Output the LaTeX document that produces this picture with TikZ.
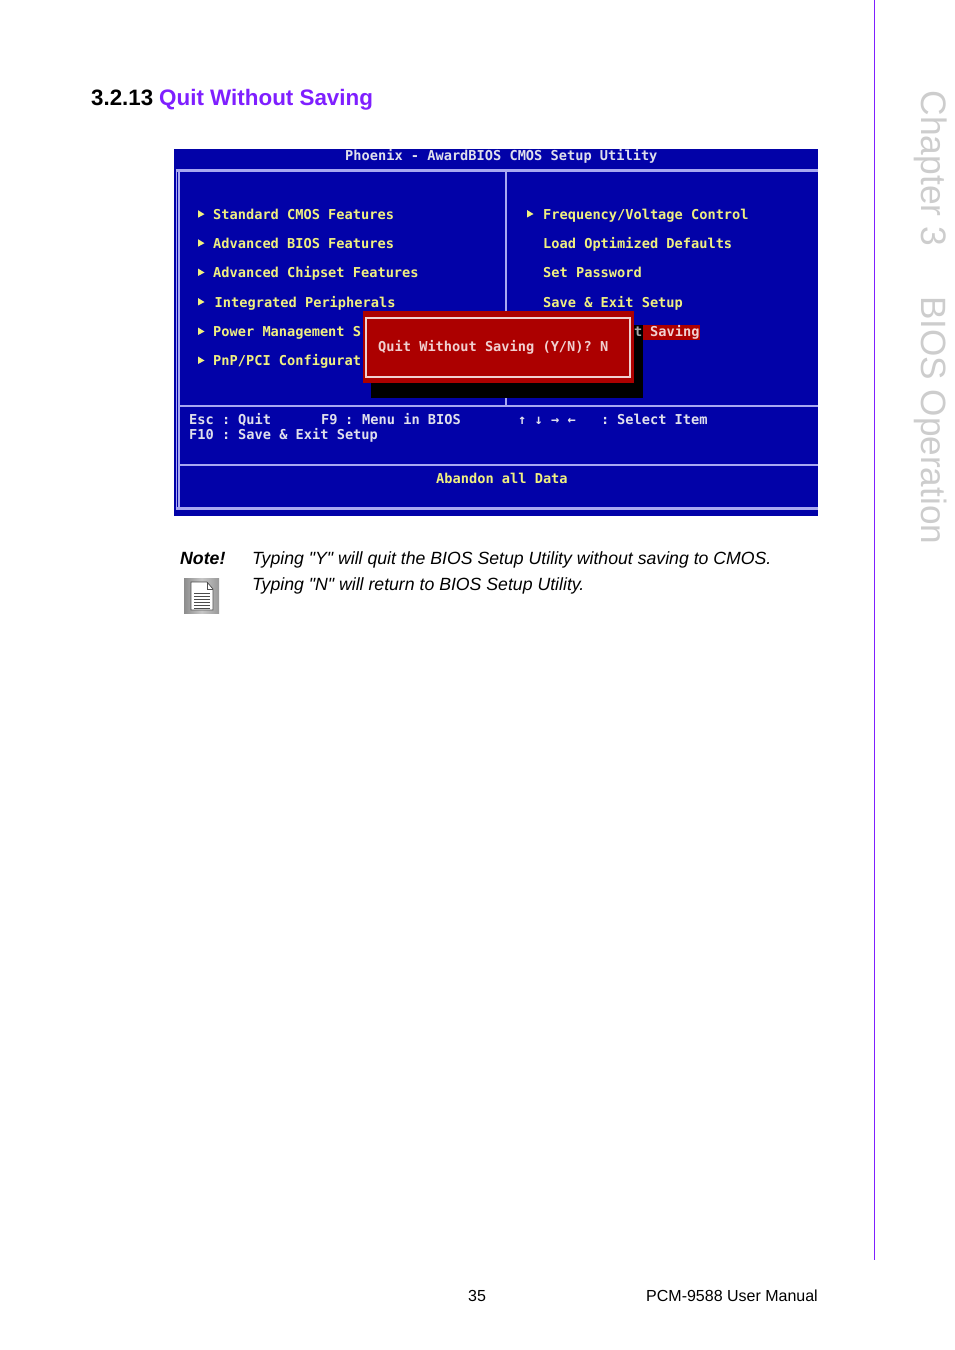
\documentclass[tikz,border=0pt]{standalone}
\usepackage{fontspec}
\setmainfont{Liberation Sans}
\newfontfamily\biosfont{DejaVu Sans Mono}
\newfontfamily\notefont{Liberation Sans}
\definecolor{biosblue}{HTML}{0202A8}
\definecolor{framec}{HTML}{A8A8F0}
\definecolor{biosred}{HTML}{AC0000}
\definecolor{biosyellow}{HTML}{F0F080}
\definecolor{bioswhite}{HTML}{E0E0EC}
\definecolor{diatext}{HTML}{F0D0D0}
\definecolor{purplec}{HTML}{7F1FFF}
\definecolor{greyc}{HTML}{CDCDCD}
\tikzset{
  x=1pt,y=-1pt,
  bt/.style={anchor=base west,inner sep=0pt,font=\fontsize{13.65}{14}\biosfont\bfseries},
  menu/.style={bt,text=biosyellow},
  help/.style={bt,text=bioswhite},
  frameln/.style={draw=framec,line width=1.5pt},
  framebd/.style={draw=framec,line width=3pt},
  tri/.style={fill=biosyellow},
  pg/.style={anchor=base west,inner sep=0pt,font=\fontsize{17.68}{20}\notefont\itshape},
  foot/.style={anchor=base west,inner sep=0pt,font=\fontsize{16}{18}\selectfont},
  chap/.style={anchor=base west,inner sep=0pt,rotate=-90,text=greyc,font=\fontsize{35.4}{36}\selectfont},
}
\begin{document}
\begin{tikzpicture}
\useasboundingbox (0,0) rectangle (954,1350);
\fill[white] (0,0) rectangle (954,1350);
% side rule
\draw[purplec,line width=1.1pt] (874.5,0) -- (874.5,1260);
\node[chap] (ch) at (921,90.5) {Chapter 3};
\node[chap,font=\fontsize{35.15}{36}\selectfont] (bo) at (921,295.8) {BIOS Operation};
% heading
\node[anchor=base west,inner sep=0pt,font=\fontsize{22.3}{24}\selectfont\bfseries] (num) at (91,105) {3.2.13};
\node[anchor=base west,inner sep=0pt,text=purplec,font=\fontsize{22.4}{24}\selectfont\bfseries] (ttl) at (159,105) {Quit Without Saving};
% BIOS screen
\fill[biosblue] (174,149) rectangle (818,516);
\draw[frameln] (176.3,170) -- (176.3,510);
\draw[frameln] (179,171) -- (179,507);
\draw[framebd] (175.5,170.5) -- (818,170.5);
\draw[framebd] (175.5,508.5) -- (818,508.5);
\draw[frameln] (506,171) -- (506,406);
\draw[frameln] (178,406) -- (818,406);
\draw[frameln] (178,465) -- (818,465);
\node[help] (t0) at (345,160.5) {Phoenix - AwardBIOS CMOS Setup Utility};
\foreach \y/\tx in {219.2/{Standard CMOS Features},248.2/{Advanced BIOS Features},277.5/{Advanced Chipset Features},336.5/{Power Management S},365.5/{PnP/PCI Configurat}}{
  \node[menu] at (213,\y) {\tx};
  \fill[tri] (198,\y-9) -- (204.5,\y-5) -- (198,\y-1.5) -- cycle;
}
\node[menu] (ip) at (214.5,307.2) {Integrated Peripherals};
\fill[tri] (198,298) -- (204.5,302) -- (198,305.5) -- cycle;
\fill[tri] (527,210) -- (533.5,214) -- (527,217.5) -- cycle;
\node[menu] (r1) at (543,219.2) {Frequency/Voltage Control};
\node[menu] (r2) at (543,248.2) {Load Optimized Defaults};
\node[menu] (r3) at (543,277.5) {Set Password};
\node[menu] (r4) at (543,307.2) {Save \& Exit Setup};
% dialog
\fill[black] (371,325) rectangle (643,398);
\fill[biosred] (643,325) rectangle (700,340);
\node[bt,text=diatext] (sv) at (650,336.4) {Saving};
\node[help,text=black!35] (tt) at (634,336.4) {t};
\fill[biosred] (363,311) rectangle (634,383);
\draw[diatext,line width=1.5pt] (366,318) rectangle (630,377);
\node[bt,text=diatext] (q) at (378,351.5) {Quit Without Saving (Y/N)? N};
% help
\node[help] (h1) at (189,424.4) {Esc};
\node[help] (h1c) at (222,424.4) {:};
\node[help] (h1t) at (238,424.4) {Quit};
\node[help] (h2) at (321,424.4) {F9};
\node[help] (h2c) at (345,424.4) {:};
\node[help] (h2t) at (362,424.4) {Menu in BIOS};
\node[help] (h3) at (189,439.5) {F10};
\node[help] (h3c) at (222,439.5) {:};
\node[help] (h3t) at (238,439.5) {Save \& Exit Setup};
\node[help] (h4) at (518,424.4) {↑ ↓ → ←};
\node[help] (h5c) at (601,424.4) {:};
\node[help] (h5) at (617,424.4) {Select Item};
\node[menu] (h6) at (436,483.4) {Abandon all Data};
% note
\node[anchor=base west,inner sep=0pt,font=\fontsize{17.7}{20}\notefont\bfseries\itshape] (nt) at (180,564) {Note!};
\node[pg] (l1) at (252,564) {Typing "Y" will quit the BIOS Setup Utility without saving to CMOS.};
\node[pg] (l2) at (252,590) {Typing "N" will return to BIOS Setup Utility.};
% icon
\shade[left color=black!45,right color=black!40,middle color=black!22] (184,578) rectangle (219,613);
\fill[white] (191,582) -- (207,582) -- (213,589) -- (213,610) -- (191,610) -- cycle;
\draw[black!70,line width=0.7pt] (191,582) -- (207,582) -- (213,589) -- (213,610) -- (191,610) -- cycle;
\draw[black!70,line width=0.7pt] (207,582) -- (207,589) -- (213,589);
\foreach \y in {593,596,599,602,605,608}{\draw[black!70,line width=1pt] (194,\y) -- (210,\y);}
% footer
\node[foot] (pn) at (468,1301) {35};
\node[foot] (mn) at (646,1301) {PCM-9588 User Manual};
\end{tikzpicture}
\end{document}
